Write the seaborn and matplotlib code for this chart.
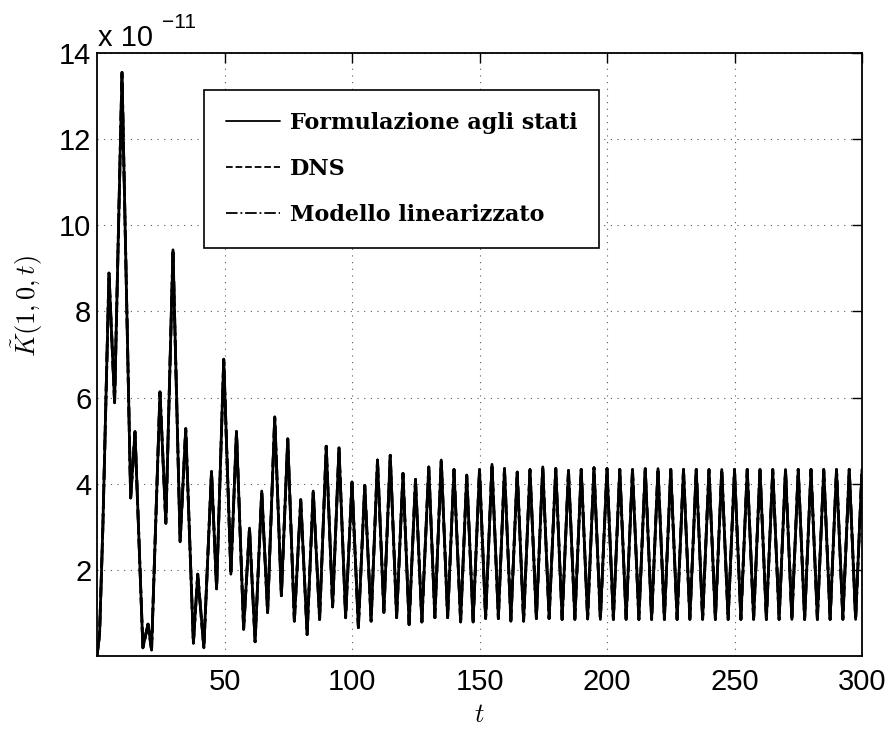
import matplotlib
matplotlib.use("Agg")
import matplotlib.pyplot as plt
import seaborn as sns

sns.set_style("white")
plt.rcParams.update({
    'font.family': ['Liberation Sans', 'DejaVu Sans'],
    'mathtext.fontset': 'cm',
    'axes.linewidth': 1.3,
    'text.color': 'k',
    'axes.labelcolor': 'k',
})

# extrema of K~(1,0,t), values in units of 1e-11
t_pts = [0.0, 1.0, 2.3, 4.7, 6.9, 9.8, 13.2, 14.9, 18.0, 20.0, 21.4, 24.7, 27.0, 29.8,
         32.6, 34.8, 37.8, 39.5, 41.9, 44.9, 46.9, 49.7, 52.5, 54.7, 57.5, 59.8,
         62.0, 64.6, 66.9, 69.7, 72.3, 74.8, 77.4, 79.9, 82.4, 84.8, 87.3, 89.9,
         92.4, 94.9, 97.5, 100.0, 102.5, 105.0, 107.5, 110.0, 112.5, 115.0, 117.5,
         120.0, 122.4, 124.9, 127.4, 130.1, 132.5, 135.0, 137.5, 140.0, 142.6,
         145.0, 147.5, 150.0, 152.4, 154.9, 157.4, 159.8, 162.3, 164.8, 167.3,
         169.8, 172.3, 174.8, 177.3, 179.9, 182.4, 184.9, 187.4, 189.9, 192.4,
         194.9, 197.4, 200.0, 202.5, 205.0, 207.5, 210.0, 212.5, 215.0, 217.5,
         220.0, 222.5, 225.0, 227.5, 230.0, 232.5, 235.0, 237.5, 240.0, 242.5,
         245.0, 247.5, 250.0, 252.5, 255.0, 257.5, 260.0, 262.5, 265.0, 267.5,
         270.0, 272.5, 275.0, 277.5, 280.0, 282.5, 285.0, 287.5, 290.0, 292.5,
         295.0, 297.5, 300.0]
k_pts = [0.0, 0.5, 3.0, 8.89, 5.88, 13.55, 3.67, 5.21, 0.19, 0.74, 0.14, 6.13, 3.08, 9.43,
         2.65, 5.28, 0.30, 1.90, 0.19, 4.28, 1.56, 6.89, 1.90, 5.21, 0.62, 2.97,
         0.33, 3.83, 1.01, 5.55, 1.40, 5.04, 0.81, 3.63, 0.50, 3.83, 0.85, 4.87,
         1.14, 4.83, 0.89, 4.04, 0.66, 3.96, 0.81, 4.55, 1.01, 4.66, 0.89,
         4.24, 0.73, 4.10, 0.79, 4.39, 0.89, 4.55, 0.89, 4.33, 0.79,
         4.20, 0.79, 4.33, 0.87, 4.45, 0.87, 4.35, 0.81, 4.27, 0.81,
         4.33, 0.87, 4.39, 0.87, 4.35, 0.85, 4.31, 0.85, 4.33, 0.86,
         4.37, 0.85, 4.35, 0.85, 4.33, 0.85, 4.33, 0.85, 4.35, 0.85,
         4.35, 0.85, 4.33, 0.85, 4.33, 0.85, 4.33, 0.85, 4.33, 0.85,
         4.33, 0.85, 4.33, 0.85, 4.33, 0.85, 4.33, 0.85, 4.33, 0.85,
         4.33, 0.85, 4.33, 0.85, 4.33, 0.85, 4.33, 0.85, 4.33, 0.85,
         4.33, 0.85, 4.33]

series_labels = ['Formulazione agli stati', 'DNS', 'Modello linearizzato']
series_styles = ['-', '--', '-.']
x_ticks = [50, 100, 150, 200, 250, 300]
y_ticks = [2, 4, 6, 8, 10, 12, 14]

fig = plt.figure(figsize=(8.93, 7.29), dpi=100)
ax = fig.add_axes([97 / 893, 1 - 656 / 729, 765 / 893, 603 / 729])

for lab, ls in zip(series_labels, series_styles):
    sns.lineplot(x=t_pts, y=k_pts, ax=ax, color='k', lw=2.0, linestyle=ls, label=lab)

ax.set_xlim(0, 300)
ax.set_ylim(0, 14)
ax.set_xticks(x_ticks)
ax.set_yticks(y_ticks)
ax.tick_params(direction='in', top=True, right=True, length=7, width=1,
               labelsize=21, colors='k')
ax.tick_params(axis='x', pad=9)
ax.tick_params(axis='y', pad=4)
ax.grid(True, color='0.35', linestyle=(0, (1, 5)), lw=0.8)
for sp in ax.spines.values():
    sp.set_color('k')

ax.set_xlabel(r'$t$', fontsize=19)
ax.set_ylabel(r'$\tilde{K}(1,0,t)$', fontsize=19)
ax.xaxis.set_label_coords(0.5, -0.078)
ax.yaxis.set_label_coords(-0.068, 0.58)

fig.text(98 / 893, 1 - 46 / 729, 'x 10', fontsize=21, ha='left', va='baseline')
fig.text(162 / 893, 1 - 28 / 729, '\u221211', fontsize=15, ha='left', va='baseline')

leg = ax.legend(loc='upper left', bbox_to_anchor=(0.14, 0.9386), borderaxespad=0,
                prop={'family': 'DejaVu Serif', 'weight': 'bold', 'size': 16},
                fancybox=False, framealpha=1, edgecolor='k',
                handlelength=2.4, labelspacing=1.08, borderpad=1.0, handletextpad=0.45)
leg.get_frame().set_linewidth(1.2)
for line in leg.get_lines():
    line.set_linewidth(1.3)
for txt in leg.get_texts():
    txt.set_color('k')

fig.savefig('out.png', dpi=100)
